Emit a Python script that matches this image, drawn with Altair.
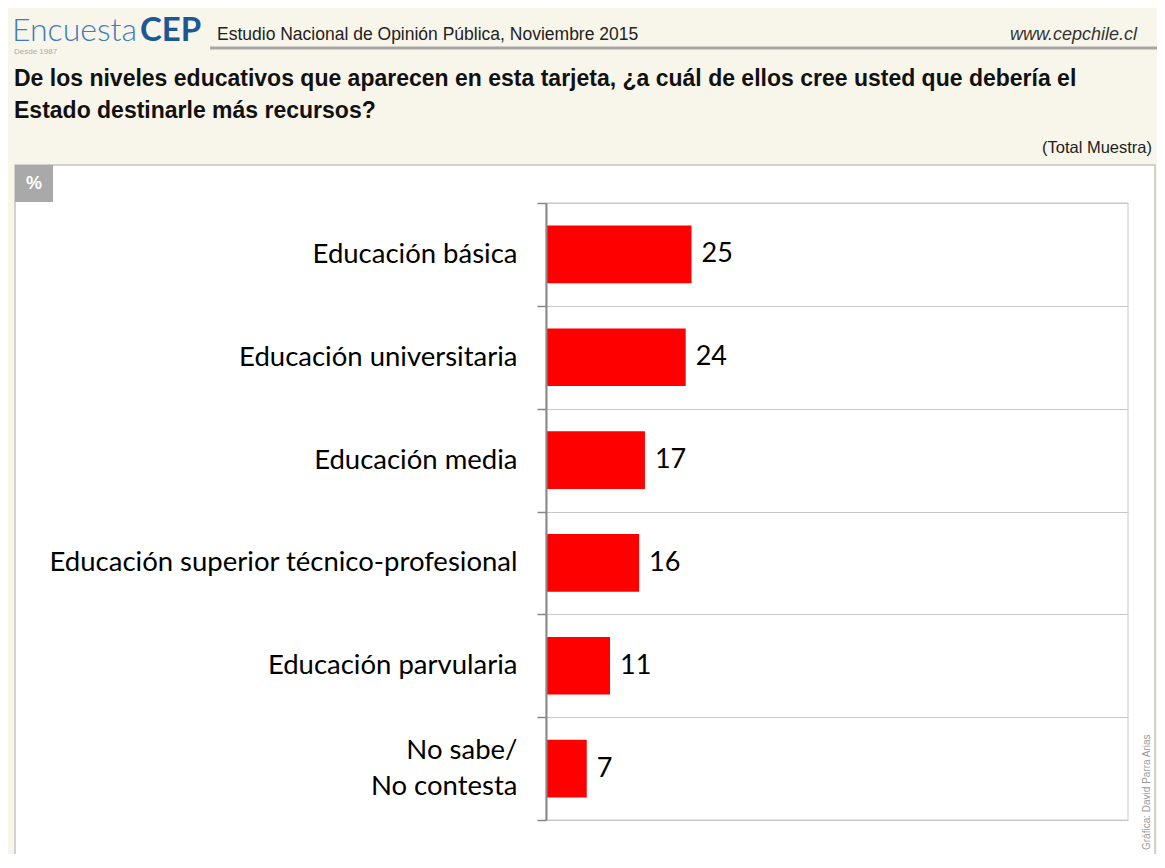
import altair as alt
import pandas as pd

categories = [
    "Educación básica",
    "Educación universitaria",
    "Educación media",
    "Educación superior técnico-profesional",
    "Educación parvularia",
    "No sabe/ No contesta",
]
values = [25, 24, 17, 16, 11, 7]

df = pd.DataFrame({"cat": categories, "val": values})
one = pd.DataFrame({"k": [0]})

# plot origin in page coordinates
OX, OY = 546, 203
W, H = 582, 617


def px(x):
    return x - OX


def py(y):
    return y - OY


def txt(s, x, y, size, color="#222222", font="Liberation Sans", weight="normal",
        align="left", baseline="alphabetic", style="normal", angle=0):
    return alt.Chart(one).mark_text(
        text=s, fontSize=size, font=font, fontWeight=weight, align=align,
        baseline=baseline, color=color, fontStyle=style, angle=angle
    ).encode(x=alt.value(px(x)), y=alt.value(py(y)))


def box(x1, y1, x2, y2, fill, stroke=None, sw=1):
    kw = dict(fill=fill)
    if stroke:
        kw.update(stroke=stroke, strokeWidth=sw)
    return alt.Chart(one).mark_rect(**kw).encode(
        x=alt.value(px(x1)), x2=alt.value(px(x2)),
        y=alt.value(py(y1)), y2=alt.value(py(y2)))


panel = box(15, 165, 1155, 858, "white", "#c4c4c4", 1.5)
pct_box = box(15, 165, 53, 202, "#a9a9a9")
pct_txt = txt("%", 34, 184, 18, color="white", weight="bold", align="center", baseline="middle")

header_line = alt.Chart(one).mark_rule(color="#a6a6a6", strokeWidth=3).encode(
    x=alt.value(px(210)), x2=alt.value(px(1157)), y=alt.value(py(48)))

logo1 = txt("Encuesta", 12, 41, 32, color="#3c7cc0", font="Lato", weight=300)
logo2 = txt("CEP", 140, 41, 33, color="#1d5796", font="Lato", weight="bold")
logo3 = txt("Desde 1987", 14, 54, 8, color="#aaaaaa")
subtitle = txt("Estudio Nacional de Opinión Pública, Noviembre 2015", 217, 40, 17.5, color="#222222")
web = txt("www.cepchile.cl", 1137, 40, 18, color="#333333", align="right", style="italic")

q1 = txt("De los niveles educativos que aparecen en esta tarjeta, ¿a cuál de ellos cree usted que debería el",
         14, 86, 23, color="#111111", weight="bold")
q2 = txt("Estado destinarle más recursos?", 14, 118, 23, color="#111111", weight="bold")
total = txt("(Total Muestra)", 1152, 153, 16.5, color="#222222", align="right")
credit = txt("Gráfica: David Parra Arias", 1150, 850, 10, color="#9a9a9a", angle=270)

plot_border = alt.Chart(one).mark_rect(fill="transparent", stroke="#c8c8c8", strokeWidth=1).encode(
    x=alt.value(0), x2=alt.value(W), y=alt.value(0), y2=alt.value(H))

base = alt.Chart(df).encode(
    y=alt.Y(
        "cat:N", sort=None,
        scale=alt.Scale(paddingInner=0, paddingOuter=0),
        axis=alt.Axis(
            title=None, tickBand="extent", grid=True, gridColor="#c8c8c8", gridWidth=1,
            ticks=True, tickSize=9, tickColor="#888888", tickWidth=1.5,
            domain=True, domainColor="#888888", domainWidth=2,
            labelFont="Lato", labelFontSize=27.5, labelColor="#000000", labelPadding=20,
            labelLimit=0, labelLineHeight=36, zindex=1,
            labelOffset=alt.condition("datum.value == 'No sabe/ No contesta'", alt.value(-18), alt.value(0)),
            labelExpr="datum.value == 'No sabe/ No contesta' ? ['No sabe/', 'No contesta'] : datum.label",
        ),
    ),
    x=alt.X("val:Q", scale=alt.Scale(domain=[0, 100]), axis=None),
)

bars = base.mark_bar(color="#ff0000", height={"band": 0.56})
labels = base.mark_text(align="left", baseline="middle", dx=10, fontSize=27, font="Lato",
                        color="#000000").encode(text="val:Q")

chart = alt.layer(
    panel, pct_box, pct_txt, header_line, logo1, logo2, logo3, subtitle, web, q1, q2, total, credit,
    plot_border, bars, labels
).properties(
    width=W, height=H,
    autosize=alt.AutoSizeParams(type="none"),
    padding={"left": 538, "top": 195, "right": 29, "bottom": 34},
).configure(background="#f8f6ea").configure_view(stroke=None)

chart.save("out.html", embed_options={"renderer": "svg", "actions": False})
